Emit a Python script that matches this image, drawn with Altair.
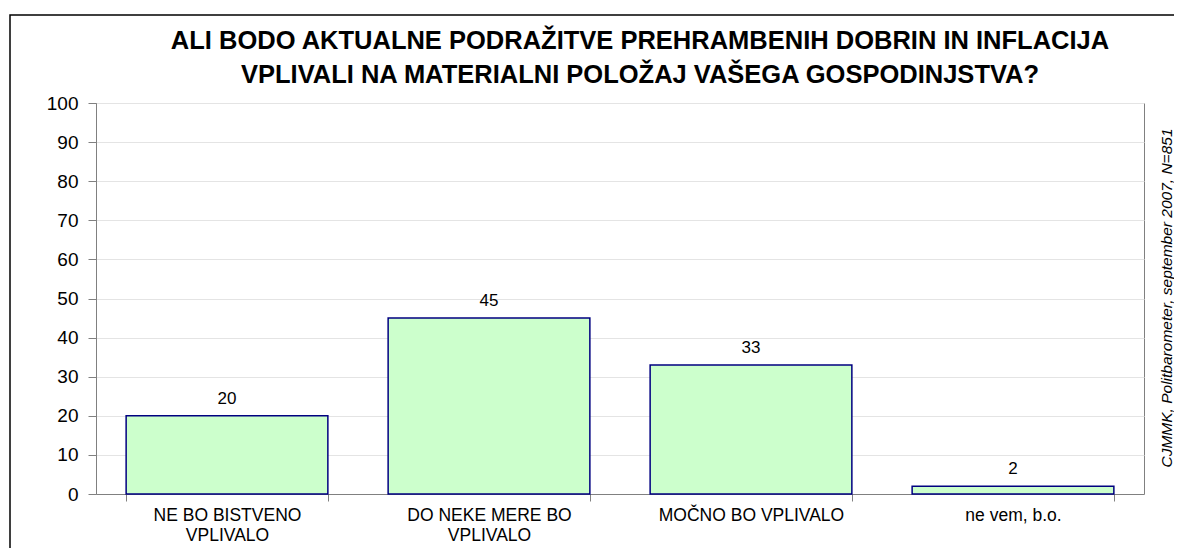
import altair as alt
import pandas as pd

categories = ["NE BO BISTVENO|VPLIVALO", "DO NEKE MERE BO|VPLIVALO", "MOČNO BO VPLIVALO", "ne vem, b.o."]
values = [20, 45, 33, 2]
title_lines = [
    "ALI BODO AKTUALNE PODRAŽITVE PREHRAMBENIH DOBRIN IN INFLACIJA",
    "VPLIVALI NA MATERIALNI POLOŽAJ VAŠEGA GOSPODINJSTVA?",
]
source_note = "CJMMK, Politbarometer, september 2007, N=851"
y_ticks = list(range(0, 101, 10))

FONT = "Liberation Sans"
df = pd.DataFrame({"cat": categories, "val": values})

x_enc = alt.X(
    "cat:N",
    sort=categories,
    scale=alt.Scale(paddingInner=0.23, paddingOuter=0.115),
    axis=alt.Axis(
        title=None,
        labelAngle=0,
        labelExpr="split(datum.label, '|')",
        labelFont=FONT,
        labelFontSize=17.5,
        labelColor="#000000",
        labelLineHeight=20,
        labelBaseline="alphabetic",
        labelPadding=19,
        labelLimit=400,
        tickBand="extent",
        tickSize=7,
        tickColor="#808080",
        domainColor="#808080",
        grid=False,
        labelOverlap=False,
    ),
)
y_enc = alt.Y(
    "val:Q",
    scale=alt.Scale(domain=[0, 100], nice=False),
    axis=alt.Axis(
        title=None,
        values=y_ticks,
        labelFont=FONT,
        labelFontSize=19,
        labelColor="#000000",
        labelPadding=10,
        labelOverlap=False,
        tickSize=8,
        tickColor="#808080",
        domainColor="#808080",
        grid=True,
        gridColor="#e4e4e4",
    ),
)

base = alt.Chart(df)
bars = base.mark_bar(fill="#CCFFCC", stroke="#000080", strokeWidth=1.5).encode(x=x_enc, y=y_enc)
labels = base.mark_text(font=FONT, fontSize=17, baseline="alphabetic", dy=-12, color="#000000").encode(
    x=x_enc, y=y_enc, text="val:Q"
)

border = alt.Chart(pd.DataFrame({"a": [1]})).mark_rect(fill=None, stroke="#000000", strokeWidth=1.5).encode(
    x=alt.value(-86), x2=alt.value(1200), y=alt.value(-88), y2=alt.value(600)
)

t1 = alt.Chart(pd.DataFrame({"t": [title_lines[0]]})).mark_text(
    font=FONT, fontSize=25.5, fontWeight="bold", align="center", baseline="alphabetic", color="#000000"
).encode(text="t:N", x=alt.value(544), y=alt.value(-54))
t2 = alt.Chart(pd.DataFrame({"t": [title_lines[1]]})).mark_text(
    font=FONT, fontSize=25.5, fontWeight="bold", align="center", baseline="alphabetic", color="#000000"
).encode(text="t:N", x=alt.value(544), y=alt.value(-20))

note = alt.Chart(pd.DataFrame({"t": [source_note]})).mark_text(
    font=FONT, fontSize=15.5, fontStyle="italic", angle=270, align="center", baseline="alphabetic", color="#000000"
).encode(text="t:N", x=alt.value(1076), y=alt.value(195))

chart = (
    alt.layer(border, bars, labels, t1, t2, note)
    .properties(
        width=1048,
        height=391,
        autosize=alt.AutoSizeParams(type="none"),
        padding={"left": 88, "top": 95, "right": 30, "bottom": 54},
        background="#ffffff",
    )
    .configure_view(stroke="#808080", strokeWidth=1)
)

chart.save("out.html", embed_options={"renderer": "svg", "actions": False})
